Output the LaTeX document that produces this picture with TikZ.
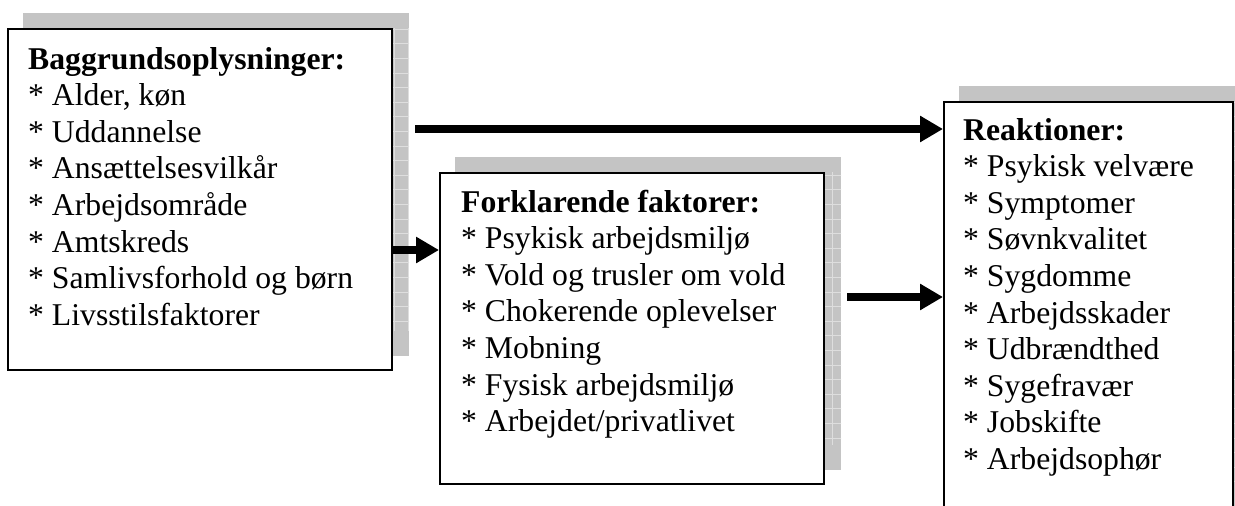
\documentclass[tikz,border=0pt]{standalone}
\usepackage{fontspec}
\setmainfont{Liberation Serif}
\usetikzlibrary{arrows.meta,backgrounds}
\tikzset{
  boxnode/.style={draw=black, line width=2.2pt, fill=white, rectangle, inner sep=0pt, anchor=north west},
  txt/.style={anchor=base west, inner sep=0pt, font=\fontsize{31.7pt}{36.6pt}\selectfont},
  shadowfill/.style={fill={rgb,255:red,196;green,196;blue,196}},
  gridline/.style={draw={rgb,255:red,222;green,222;blue,222}, line width=0.8pt},
  arr/.style={line width=8pt, -{Triangle[length=23pt,width=25pt]}}
}
\begin{document}
\begin{tikzpicture}[x=1pt,y=-1pt]
\clip (0,0) rectangle (1235,506);
% boxes
\node[boxnode, minimum width=384pt, minimum height=341pt] (b1) at (7,28) {};
\node[boxnode, minimum width=384pt, minimum height=311pt] (b2) at (439,172) {};
\node[boxnode, minimum width=289pt, minimum height=430pt] (b3) at (943,101) {};
% shadows
\begin{scope}[on background layer]
  \foreach \b in {b1,b2,b3}{
    \begin{scope}
      \path[clip] ([shift={(16,-15)}]\b.south west) rectangle ([shift={(16,-15)}]\b.north east);
      \fill[shadowfill] ([shift={(16,-15)}]\b.south west) rectangle ([shift={(16,-15)}]\b.north east);
      \draw[gridline, step=14.6pt] ([shift={(0,-40)}]\b.south west) grid ([shift={(40,0)}]\b.north east);
    \end{scope}
  }
\end{scope}
% texts box 1
\foreach \t [count=\i from 0] in {{\textbf{Baggrundsoplysninger:}},{* Alder, køn},{* Uddannelse},{* Ansættelsesvilkår},{* Arbejdsområde},{* Amtskreds},{* Samlivsforhold og børn},{* Livsstilsfaktorer}}{
  \node[txt] (ta\i) at (28,69+36.6*\i) {\t};
}
% texts box 2
\foreach \t [count=\i from 0] in {{\textbf{Forklarende faktorer:}},{* Psykisk arbejdsmiljø},{* Vold og trusler om vold},{* Chokerende oplevelser},{* Mobning},{* Fysisk arbejdsmiljø},{* Arbejdet/privatlivet}}{
  \node[txt] (tb\i) at (461,212+36.6*\i) {\t};
}
% texts box 3
\foreach \t [count=\i from 0] in {{\textbf{Reaktioner:}},{* Psykisk velvære},{* Symptomer},{* Søvnkvalitet},{* Sygdomme},{* Arbejdsskader},{* Udbrændthed},{* Sygefravær},{* Jobskifte},{* Arbejdsophør}}{
  \node[txt] (tc\i) at (963,140+36.6*\i) {\t};
}
% arrows
\coordinate (a1) at (415,129);
\coordinate (a2) at (391,250);
\coordinate (a3) at (847,297);
\draw[arr] (a1) -- (a1 -| b3.west);
\draw[arr] (a2 -| b1.east) -- (a2 -| b2.west);
\draw[arr] (a3) -- (a3 -| b3.west);
\end{tikzpicture}
\end{document}
